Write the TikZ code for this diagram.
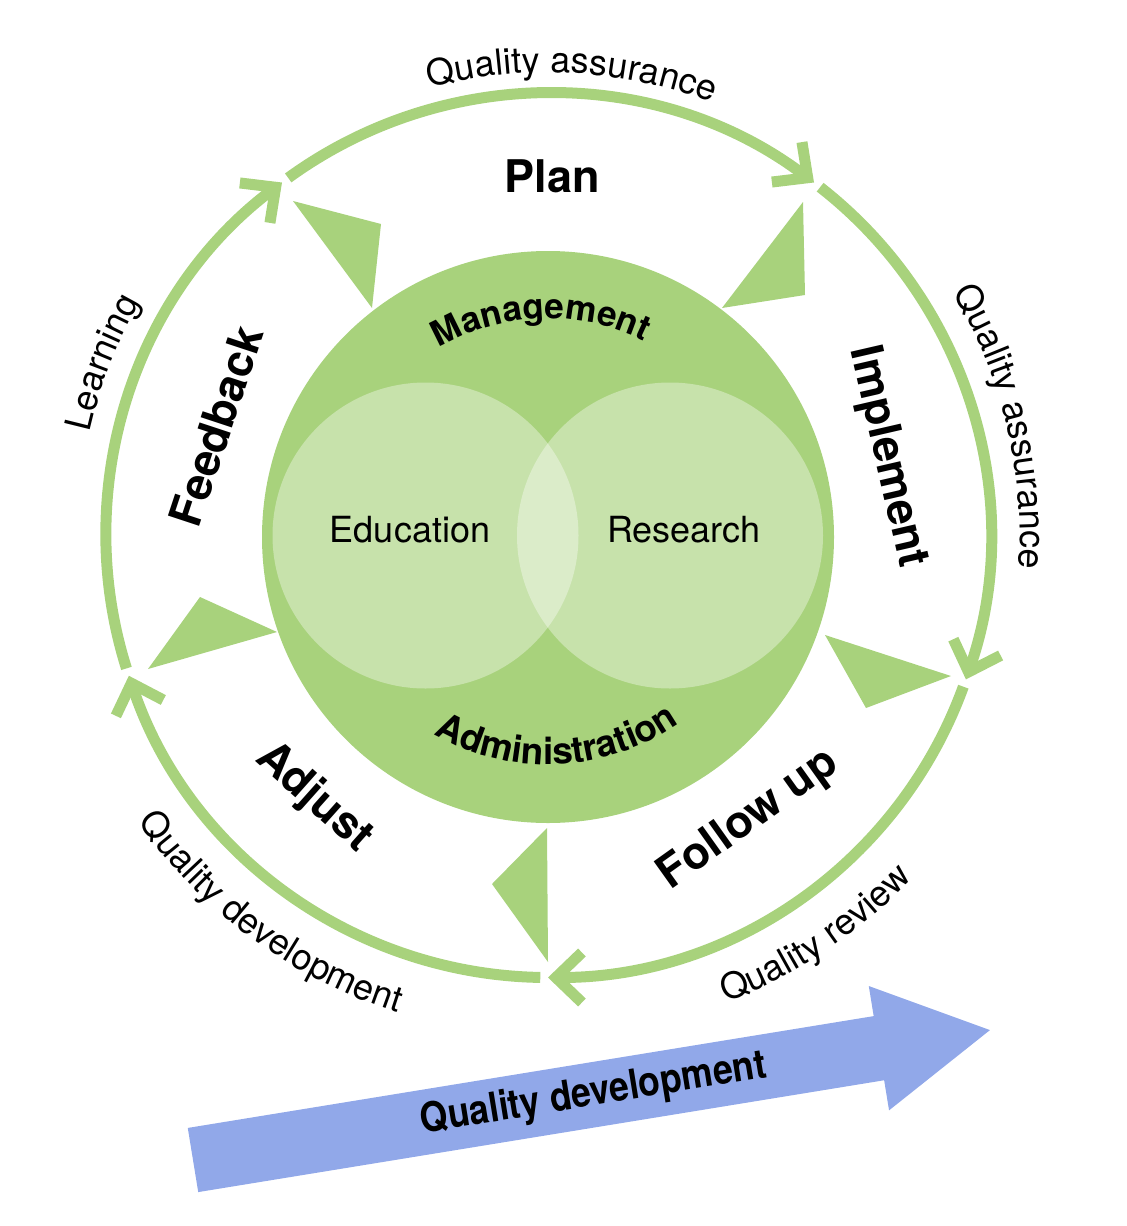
\documentclass[tikz,border=0pt]{standalone}
\usepackage{fontspec}
\setmainfont{TeX Gyre Heros}
\usetikzlibrary{arrows.meta,decorations.text}
\definecolor{qgreen}{RGB}{168,210,124}
\definecolor{qblue}{RGB}{145,168,233}
\newcommand\outerfont{\fontsize{18}{20}\selectfont}
\newcommand\innerfont{\fontsize{17.5}{20}\selectfont\bfseries}
\newcommand\adminfont{\fontsize{18.4}{20}\selectfont\bfseries}
\begin{document}
\begin{tikzpicture}[x=0.5pt,y=0.5pt,
  ringarc/.style={draw=qgreen, line width=5.5pt, line cap=butt,
    -{Straight Barb[length=13pt,width=25pt]}},
  bigtext/.style={font=\fontsize{22.5}{27}\selectfont\bfseries, inner sep=0pt},
  midtext/.style={font=\fontsize{18}{20}\selectfont, inner sep=0pt},
  venn/.style={fill=white, fill opacity=0.36},
  pointer/.style={fill=qgreen},
  arctext/.style={decorate, decoration={text along path, text align=center, text={#1}}}
]
\useasboundingbox (0,0) rectangle (1126,-1226);

% green pointer triangles
\fill[pointer] (293,-201) -- (381,-224) -- (372,-308) -- cycle;
\fill[pointer] (803,-202) -- (805,-295) -- (722,-308) -- cycle;
\fill[pointer] (825,-635) -- (951,-676) -- (866,-708) -- cycle;
\fill[pointer] (547,-828) -- (548,-962) -- (492,-884) -- cycle;
\fill[pointer] (200,-597) -- (277,-632) -- (148,-669) -- cycle;

\begin{scope}[shift={(548,-535.5)}]
  % outer ring arcs
  \draw[ringarc] (126:442) arc[start angle=126, end angle=53, radius=442];
  \draw[ringarc] (52:442) arc[start angle=52, end angle=-19, radius=442];
  \draw[ringarc] (-20:442) arc[start angle=-20, end angle=-90, radius=442];
  \draw[ringarc] (-91:442) arc[start angle=-91, end angle=-161.5, radius=442];
  \draw[ringarc] (-162.5:442) arc[start angle=-162.5, end angle=-233, radius=442];

  % inner circle and Venn
  \fill[qgreen] (0,-1.5) circle[radius=286];
  \fill[venn] (-122.5,0) circle[radius=153];
  \fill[venn] (122,0) circle[radius=153];

  \node[midtext] (education) at (-138,6) {Education};
  \node[midtext] (research) at (136,6) {Research};

  \path[arctext={|\innerfont|Management}] (136.9:217) arc[start angle=136.9, end angle=46.9, radius=217];
  \path[arctext={|\adminfont|Administration}] (-137.4:229) arc[start angle=-137.4, end angle=-37.4, radius=229];

  % big stage labels
  \node[bigtext] (plan) at (4,359.5) {Plan};
  \node[bigtext, rotate=-77] (implement) at (339,78.5) {Implement};
  \node[bigtext, rotate=35.5] (followup) at (201,-284.5) {Follow up};
  \node[bigtext, rotate=-41.7] (adjust) at (-234,-262.5) {Adjust};
  \node[bigtext, rotate=71.7] (feedback) at (-332,109.5) {Feedback};

  % outer labels
  \path[arctext={|\outerfont|Quality assurance}] (127:463) arc[start angle=127, end angle=47, radius=463];
  \path[arctext={|\outerfont|Quality assurance}] (53.5:472) arc[start angle=53.5, end angle=-26.5, radius=472];
  \path[arctext={|\outerfont|Learning}] (178.8:470) arc[start angle=178.8, end angle=138.8, radius=470];
  \path[arctext={|\outerfont|Quality development}] (-166.3:500) arc[start angle=-166.3, end angle=-86.3, radius=500];
  \path[arctext={|\outerfont|Quality review}] (-86.2:500) arc[start angle=-86.2, end angle=-26.2, radius=500];
\end{scope}

% big blue arrow
\begin{scope}[shift={(193,-1160)}, rotate=9.26]
  \fill[qblue] (0,32.5) -- (695,32.5) -- (695,63) -- (807.5,0) -- (695,-63) -- (695,-32.5) -- (0,-32.5) -- cycle;
  \node[rotate=9.26, xscale=0.87, font=\fontsize{20.5}{24}\selectfont\bfseries, inner sep=0pt] (qdev) at (406,0) {Quality development};
\end{scope}
\end{tikzpicture}
\end{document}
